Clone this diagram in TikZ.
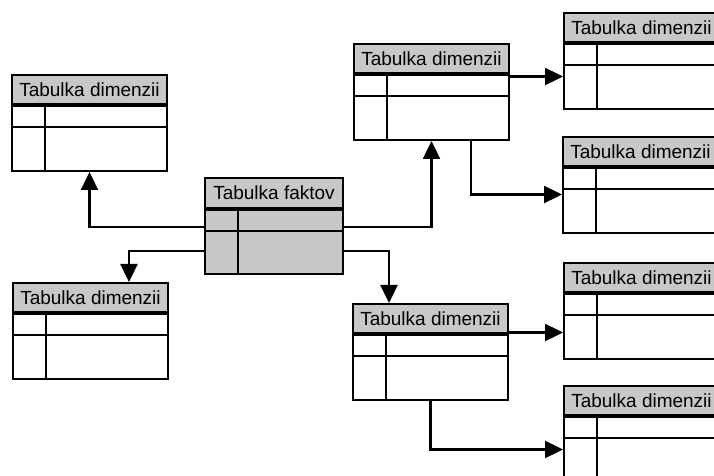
\documentclass[tikz,border=0pt]{standalone}
\usepackage{fontspec}
\setmainfont{Liberation Sans}
\usepackage{xcolor}
\usetikzlibrary{arrows.meta}
\definecolor{headgray}{RGB}{200,200,200}

\begin{document}
\begin{tikzpicture}[
    x=0.5pt, y=-0.5pt,
    head/.style={rectangle, draw, line width=1pt, fill=headgray, minimum width=77.5pt, minimum height=14.5pt, inner sep=0pt, anchor=north west, font=\fontsize{9.5}{11}\selectfont},
    body/.style={rectangle, draw, line width=1pt, minimum width=77.5pt, minimum height=32.5pt, inner sep=0pt, anchor=north west,
        path picture={
            \draw[line width=1pt] ([xshift=16.5pt]path picture bounding box.north west) -- ([xshift=16.5pt]path picture bounding box.south west);
            \draw[line width=1pt] ([yshift=-10.5pt]path picture bounding box.north west) -- ([yshift=-10.5pt]path picture bounding box.north east);
        }},
    link/.style={-{Triangle[length=9pt, width=8.5pt]}, line width=1.2pt}
]
\useasboundingbox (0,0) rectangle (714,476);

% Fact table
\node[head, minimum width=69pt, minimum height=15pt] (facth) at (204,177) {Tabulka faktov};
\node[body, fill=headgray, minimum width=69pt, minimum height=32pt] (fact) at (facth.south west) {};

% Dimension tables on the left
\node[head] (dl1h) at (11,74) {Tabulka dimenzii};
\node[body] (dl1) at (dl1h.south west) {};
\node[head] (dl2h) at (12,282) {Tabulka dimenzii};
\node[body] (dl2) at (dl2h.south west) {};

% Dimension tables in the middle
\node[head] (dm1h) at (353,43) {Tabulka dimenzii};
\node[body] (dm1) at (dm1h.south west) {};
\node[head] (dm2h) at (352,303) {Tabulka dimenzii};
\node[body] (dm2) at (dm2h.south west) {};

% Dimension tables on the right
\node[head] (dr1h) at (563,12) {Tabulka dimenzii};
\node[body] (dr1) at (dr1h.south west) {};
\node[head] (dr2h) at (562,136) {Tabulka dimenzii};
\node[body] (dr2) at (dr2h.south west) {};
\node[head] (dr3h) at (563,262) {Tabulka dimenzii};
\node[body] (dr3) at (dr3h.south west) {};
\node[head] (dr4h) at (563,385) {Tabulka dimenzii};
\node[body] (dr4) at (dr4h.south west) {};

% Arrows
\coordinate (dr3in) at ([yshift=-3pt]dr3.west);
\draw[link] ([yshift=7.5pt]fact.west) -| (dl1.south);
\draw[link] ([yshift=-4.5pt]fact.west) -| ([xshift=19.25pt]dl2h.north);
\draw[link] ([yshift=7.5pt]fact.east) -| (dm1.south);
\draw[link] ([yshift=-4.5pt]fact.east) -| ([xshift=-20.75pt]dm2h.north);
\draw[link] (dm1.east |- dr1.west) -- (dr1.west);
\draw[link] ([xshift=19.75pt]dm1.south) |- ([yshift=3pt]dr2.west);
\draw[link] (dm2h.east |- dr3in) -- (dr3in);
\draw[link] (dm2.south) |- (dr4.west);

\end{tikzpicture}
\end{document}
